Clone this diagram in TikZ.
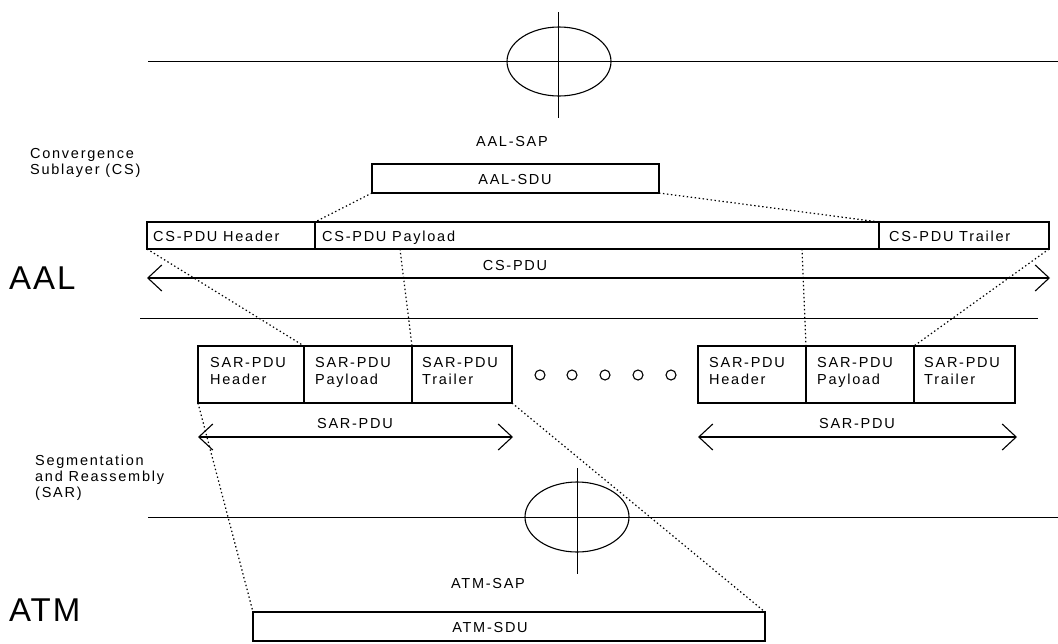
\documentclass[tikz,border=0pt]{standalone}
\usepackage{fontspec}
\usetikzlibrary{arrows.meta,shapes.geometric}
\newfontfamily\pf[LetterSpace=12]{Liberation Sans}
\newfontfamily\bigf[LetterSpace=6]{Liberation Sans}
\begin{document}
\begin{tikzpicture}[x=1pt,y=-1pt,
  box/.style={draw,line width=1.1pt,inner sep=0pt,outer sep=0pt,anchor=north west},
  txt/.style={font=\pf\fontsize{14.5}{16}\selectfont,inner sep=0pt,anchor=base west},
  ctxt/.style={font=\pf\fontsize{14.5}{16}\selectfont,inner sep=0pt,anchor=base},
  bigtxt/.style={font=\bigf\fontsize{33}{36}\selectfont,inner sep=0pt,anchor=base west},
  layerline/.style={line width=1pt},
  conn/.style={line width=1.2pt,dash pattern=on 1.4pt off 2.6pt},
  dim/.style={line width=1.1pt,{Straight Barb[length=14pt,width=26pt,line width=1.1pt]}-{Straight Barb[length=14pt,width=26pt,line width=1.1pt]}},
  dot/.style={draw,circle,line width=1.1pt,minimum size=10pt,inner sep=0pt}]
\useasboundingbox (0,0) rectangle (1058,643);

% ---------- top SAP ----------
\coordinate (tl1) at (148,61);
\coordinate (tl2) at (1058,61);
\draw[layerline] (tl1) -- (tl2);
\node[draw,ellipse,line width=1.1pt,minimum width=104pt,minimum height=69pt,inner sep=0pt] (sapAAL) at (559,61.5) {};
\coordinate (tv1) at (558,12);
\coordinate (tv2) at (558,118);
\draw[line width=1pt] (tv1) -- (tv2);

% ---------- CS labels ----------
\node[txt] (cs1) at (30,158) {Convergence};
\node[txt] (cs2) at (30,174) {Sublayer (CS)};
\node[ctxt] (aalsap) at (512,146) {AAL-SAP};

\node[box,minimum width=287pt,minimum height=29pt] (sdu) at (372,164) {};
\node[ctxt] (sdut) at (515,184) {AAL-SDU};

% CS-PDU row
\node[box,minimum width=168pt,minimum height=27pt] (csh) at (147,222) {};
\node[box,minimum width=564pt,minimum height=27pt] (csp) at (315,222) {};
\node[box,minimum width=170pt,minimum height=27pt] (cst) at (879,222) {};
\node[txt] (csht) at (153,241) {CS-PDU Header};
\node[txt] (cspt) at (322,241) {CS-PDU Payload};
\node[txt] (cstt) at (889,241) {CS-PDU Trailer};

% CS-PDU arrow
\coordinate (ca1) at (147,278);
\coordinate (ca2) at (1050,278);
\draw[dim] (ca1) -- (ca2);
\node[ctxt] (cspdu) at (515,270) {CS-PDU};

\node[bigtxt] (aal) at (9,289) {AAL};

% middle line
\coordinate (ml1) at (140,318);
\coordinate (ml2) at (1038,318);
\draw[layerline] (ml1) -- (ml2);

% ---------- SAR-PDUs ----------
\node[box,minimum width=106pt,minimum height=57pt] (s1h) at (198,346) {};
\node[box,minimum width=108pt,minimum height=57pt] (s1p) at (304,346) {};
\node[box,minimum width=100pt,minimum height=57pt] (s1t) at (412,346) {};
\node[txt,align=left,anchor=north west] (s1ht) at (210,357) {SAR-PDU\\[1pt]Header};
\node[txt,align=left,anchor=north west] (s1pt) at (315,357) {SAR-PDU\\[1pt]Payload};
\node[txt,align=left,anchor=north west] (s1tt) at (422,357) {SAR-PDU\\[1pt]Trailer};

\node[box,minimum width=108pt,minimum height=57pt] (s2h) at (698,346) {};
\node[box,minimum width=108pt,minimum height=57pt] (s2p) at (806,346) {};
\node[box,minimum width=101pt,minimum height=57pt] (s2t) at (914,346) {};
\node[txt,align=left,anchor=north west] (s2ht) at (709,357) {SAR-PDU\\[1pt]Header};
\node[txt,align=left,anchor=north west] (s2pt) at (817,357) {SAR-PDU\\[1pt]Payload};
\node[txt,align=left,anchor=north west] (s2tt) at (924,357) {SAR-PDU\\[1pt]Trailer};

\node[dot] (d1) at (540,375) {};
\node[dot] (d2) at (572,375) {};
\node[dot] (d3) at (605,375) {};
\node[dot] (d4) at (638,375) {};
\node[dot] (d5) at (671,375) {};

\coordinate (sa1) at (198,437);
\coordinate (sa2) at (513,437);
\draw[dim] (sa1) -- (sa2);
\node[ctxt] (s1l) at (355,428) {SAR-PDU};
\coordinate (sb1) at (698,437);
\coordinate (sb2) at (1017,437);
\draw[dim] (sb1) -- (sb2);
\node[ctxt] (s2l) at (857,428) {SAR-PDU};

\node[txt] (sg1) at (35,465) {Segmentation};
\node[txt] (sg2) at (35,481) {and Reassembly};
\node[txt] (sg3) at (35,497) {(SAR)};

% ---------- bottom SAP ----------
\coordinate (bl1) at (148,517);
\coordinate (bl2) at (1058,517);
\draw[layerline] (bl1) -- (bl2);
\node[draw,ellipse,line width=1.1pt,minimum width=104pt,minimum height=70pt,inner sep=0pt] (sapATM) at (577,517) {};
\coordinate (bv1) at (577,468);
\coordinate (bv2) at (577,574);
\draw[line width=1pt] (bv1) -- (bv2);

\node[ctxt] (atmsap) at (488,588) {ATM-SAP};
\node[bigtxt] (atm) at (9,621) {ATM};
\node[box,minimum width=512pt,minimum height=29pt] (atmsdu) at (253,612) {};
\node[ctxt] (atmsdut) at (490,632) {ATM-SDU};

% ---------- mapping (dotted) ----------
\draw[conn] (sdu.south west) -- (csp.north west);
\draw[conn] (sdu.south east) -- (cst.north west);
\draw[conn] (csh.south west) -- (s1p.north west);
\coordinate (pv1) at (400,249);
\draw[conn] (pv1) -- (s1t.north west);
\coordinate (pv2) at (802,249);
\draw[conn] (pv2) -- (s2p.north west);
\draw[conn] (cst.south east) -- (s2t.north west);
\draw[conn] (s1h.south west) -- (atmsdu.north west);
\draw[conn] (s1t.south east) -- (atmsdu.north east);
\end{tikzpicture}
\end{document}
